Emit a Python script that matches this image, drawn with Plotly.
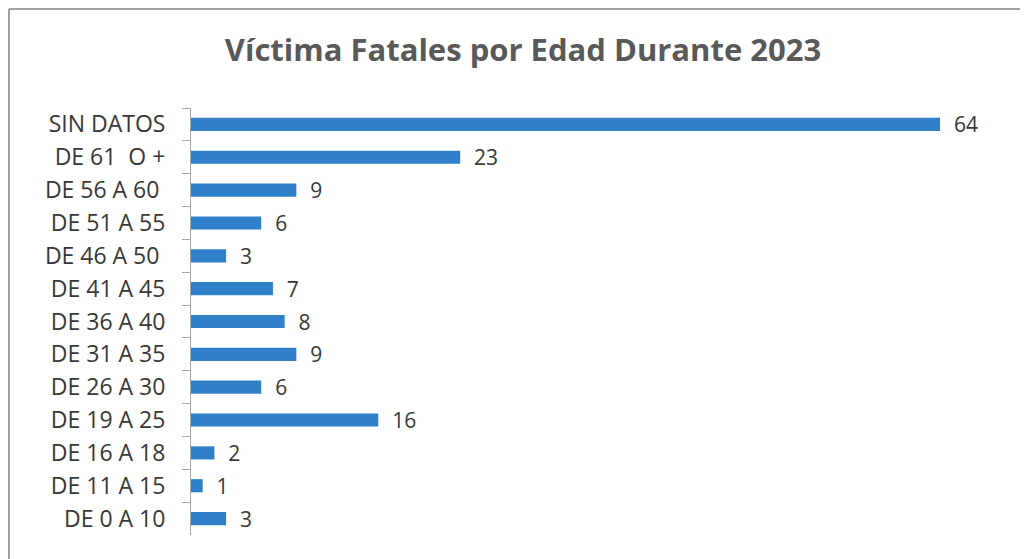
import plotly.graph_objects as go

categories = ["SIN DATOS", "DE 61\u00a0\u00a0O +", "DE 56 A 60\u00a0", "DE 51 A 55", "DE 46 A 50\u00a0",
              "DE 41 A 45", "DE 36 A 40", "DE 31 A 35", "DE 26 A 30", "DE 19 A 25",
              "DE 16 A 18", "DE 11 A 15", "DE 0 A 10"]
values = [64, 23, 9, 6, 3, 7, 8, 9, 6, 16, 2, 1, 3]
title_text = "Víctima Fatales por Edad Durante 2023"

OFF = 8  # page body margin
W, H = 1028 - OFF, 559 - OFF
ML = 191 - OFF
MT = 108 - OFF
MB = H - (535 - OFF)
MR = W - (1000 - OFF)
pw = W - ML - MR
ph = H - MT - MB

fig = go.Figure(go.Bar(
    x=values, y=categories, orientation="h",
    marker=dict(color="#2f80c8", line=dict(width=0)),
    width=0.4,
    text=values, texttemplate="\u00a0\u00a0%{x}", textposition="outside",
    constraintext="none",
    textfont=dict(family="Open Sans", size=21, color="#383838"),
    cliponaxis=False,
))

def px_x(p):
    return (p - OFF - ML) / pw

def px_y(p):
    return (H - MB - (p - OFF)) / ph

fig.update_layout(
    width=W, height=H,
    margin=dict(l=ML, r=MR, t=MT, b=MB),
    paper_bgcolor="white", plot_bgcolor="white",
    title=dict(text=title_text, x=(523 - OFF) / W, xanchor="center", y=1 - (50 - OFF) / H, yanchor="middle",
               font=dict(family="Open Sans", size=31, color="#595959", weight="bold")),
    xaxis=dict(range=[0, max(values) * 1.08], visible=False),
    yaxis=dict(autorange="reversed", showline=True, linecolor="#a6a6a6", linewidth=1,
               ticks="outside", tickson="boundaries", ticklen=8, tickcolor="#a6a6a6",
               tickfont=dict(family="Open Sans", size=23, color="#383838"),
               ticklabelstandoff=20, showgrid=False),
    showlegend=False,
    shapes=[
        dict(type="line", xref="paper", yref="paper", x0=px_x(9), x1=px_x(1040), y0=px_y(9), y1=px_y(9),
             line=dict(color="#a0a0a0", width=2)),
        dict(type="line", xref="paper", yref="paper", x0=px_x(9), x1=px_x(9), y0=px_y(9), y1=px_y(570),
             line=dict(color="#a0a0a0", width=2)),
    ],
)

fig.write_html("out.html")
